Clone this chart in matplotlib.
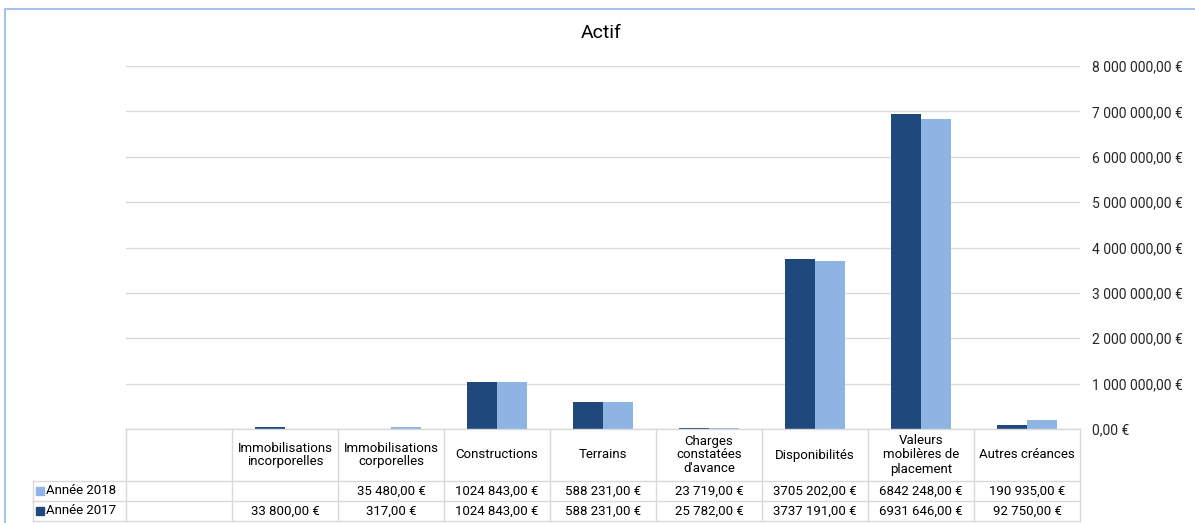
import matplotlib
matplotlib.use("Agg")
import matplotlib.pyplot as plt
import matplotlib.transforms as mtransforms
from matplotlib.lines import Line2D
from matplotlib.patches import Rectangle
from matplotlib.ticker import FuncFormatter

plt.rcParams['font.family'] = ['Roboto', 'DejaVu Sans']

categories = ['', 'Immobilisations\nincorporelles', 'Immobilisations\ncorporelles',
              'Constructions', 'Terrains', 'Charges\nconstatées\nd\'avance',
              'Disponibilités', 'Valeurs\nmobilères de\nplacement', 'Autres créances']
annee_2018 = [None, None, 35480, 1024843, 588231, 23719, 3705202, 6842248, 190935]
annee_2017 = [None, 33800, 317, 1024843, 588231, 25782, 3737191, 6931646, 92750]
series_names = ['Année 2018', 'Année 2017']
yticks = [0, 1000000, 2000000, 3000000, 4000000, 5000000, 6000000, 7000000, 8000000]

c2017 = '#1f497d'
c2018 = '#8db4e2'
grid_c = '#d9d9d9'

W, H = 1195, 523
fig = plt.figure(figsize=(W / 100, H / 100), dpi=100)
fig.patch.set_facecolor('white')

def fx(px):
    return px / W

def fy(py):
    return 1 - py / H

ax = fig.add_axes([fx(126), fy(429), fx(1080) - fx(126), fy(66) - fy(429)])

n = len(categories)
xs = list(range(n))
bw = 0.285
for i in xs:
    if annee_2017[i] is not None:
        ax.bar(i - bw / 2, annee_2017[i], width=bw, color=c2017, zorder=3)
    if annee_2018[i] is not None:
        ax.bar(i + bw / 2, annee_2018[i], width=bw, color=c2018, zorder=3)

ax.set_xlim(-0.5, n - 0.5)
ax.set_ylim(0, 8000000)
ax.set_yticks(yticks)

def fmt_tick(v, pos=None):
    v = int(round(v))
    if v == 0:
        return '0,00 €'
    s = f'{v:,}'.replace(',', ' ')
    return s + ',00 €'

ax.yaxis.set_major_formatter(FuncFormatter(fmt_tick))
ax.yaxis.tick_right()
ax.tick_params(axis='y', length=0, pad=9, labelsize=10, colors='#262626')
ax.tick_params(axis='x', length=0, labelbottom=False)
ax.grid(axis='y', color=grid_c, linewidth=1, zorder=0)
for s in ax.spines.values():
    s.set_visible(False)

fig.text(0.503, fy(33), 'Actif', ha='center', va='center', fontsize=14, color='#000000')

# Data table
def fmt_cell(v):
    if v is None:
        return ''
    v = int(v)
    if v >= 1000:
        return f'{v // 1000} {v % 1000:03d},00 €'
    return f'{v},00 €'

tr = mtransforms.blended_transform_factory(ax.transData, fig.transFigure)
y_top, y_h, y_r1, y_r2 = fy(429), fy(481), fy(501), fy(521)
x_lab = -0.5 - (126 - 33) / 106.0

lw = 1.0
fig.add_artist(Line2D([-0.5, n - 0.5], [y_top, y_top], transform=tr, color=grid_c, lw=lw))
for yy in (y_h, y_r1, y_r2):
    fig.add_artist(Line2D([x_lab, n - 0.5], [yy, yy], transform=tr, color=grid_c, lw=lw))
for k in range(n + 1):
    xb = k - 0.5
    fig.add_artist(Line2D([xb, xb], [y_top, y_r2], transform=tr, color=grid_c, lw=lw))
fig.add_artist(Line2D([x_lab, x_lab], [y_h, y_r2], transform=tr, color=grid_c, lw=lw))

fs = 9.5
for i, cat in enumerate(categories):
    fig.text(i, (y_top + y_h) / 2, cat, transform=tr, ha='center', va='center',
             fontsize=fs, color='#000000', linespacing=1.1)
    fig.text(i, (y_h + y_r1) / 2, fmt_cell(annee_2018[i]), transform=tr, ha='center',
             va='center', fontsize=fs, color='#000000')
    fig.text(i, (y_r1 + y_r2) / 2, fmt_cell(annee_2017[i]), transform=tr, ha='center',
             va='center', fontsize=fs, color='#000000')

for name, col, (ya, yb) in ((series_names[0], c2018, (y_h, y_r1)),
                            (series_names[1], c2017, (y_r1, y_r2))):
    yc = (ya + yb) / 2
    fig.add_artist(Rectangle((fx(36), yc - 4 / H), 8 / W, 8 / H,
                             transform=fig.transFigure, color=col))
    fig.text(fx(46), yc, name, ha='left', va='center', fontsize=fs, color='#000000')

border_c = '#a6c3ea'
fig.add_artist(Line2D([fx(5), 1], [fy(9), fy(9)], transform=fig.transFigure, color=border_c, lw=1.5))
fig.add_artist(Line2D([fx(5), fx(5)], [fy(9), 0], transform=fig.transFigure, color=border_c, lw=1.5))

fig.savefig('out.png', dpi=100, facecolor='white')
